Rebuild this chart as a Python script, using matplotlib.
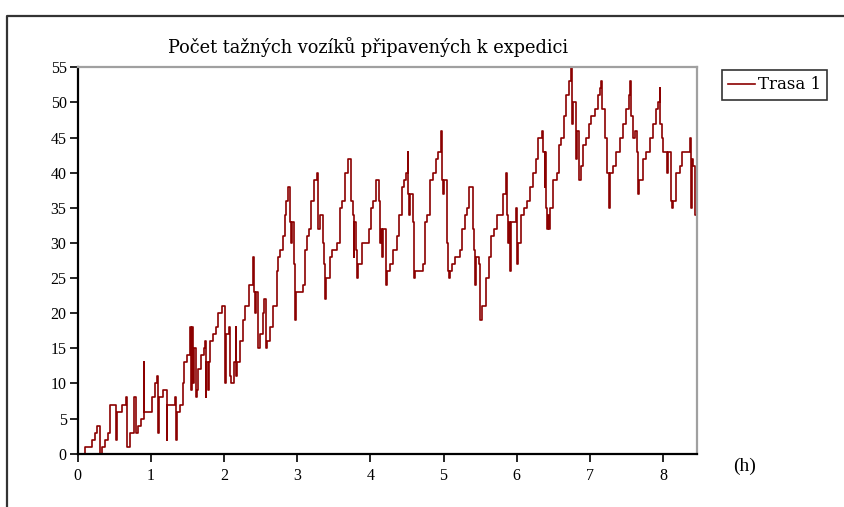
import matplotlib
matplotlib.use("Agg")
import matplotlib.pyplot as plt
from matplotlib.lines import Line2D

# change-point times (hours) and number of carts from that time on
times = [0.00, 0.10, 0.19, 0.24, 0.27, 0.305, 0.33, 0.37, 0.42, 0.445, 0.52, 0.535,
         0.61, 0.655, 0.67, 0.71, 0.77, 0.79, 0.83, 0.865, 0.90, 0.91, 1.01, 1.055,
         1.085, 1.10, 1.115, 1.16, 1.215, 1.225, 1.33, 1.35, 1.36, 1.40, 1.435, 1.45,
         1.49, 1.54, 1.55, 1.56, 1.575, 1.59, 1.615, 1.635, 1.65, 1.69, 1.72, 1.74,
         1.75, 1.76, 1.785, 1.80, 1.81, 1.85, 1.89, 1.92, 1.97, 2.01, 2.02, 2.03,
         2.07, 2.075, 2.09, 2.13, 2.16, 2.17, 2.18, 2.22, 2.26, 2.29, 2.34, 2.395,
         2.405, 2.43, 2.44, 2.47, 2.49, 2.53, 2.55, 2.57, 2.59, 2.63, 2.67, 2.72,
         2.74, 2.77, 2.80, 2.83, 2.85, 2.875, 2.895, 2.91, 2.93, 2.95, 2.97, 2.985,
         3.08, 3.11, 3.14, 3.165, 3.195, 3.23, 3.265, 3.29, 3.31, 3.355, 3.365, 3.38,
         3.40, 3.45, 3.47, 3.54, 3.58, 3.61, 3.65, 3.70, 3.73, 3.757, 3.77, 3.78,
         3.80, 3.82, 3.835, 3.879, 3.979, 4.007, 4.038, 4.075, 4.12, 4.13, 4.139,
         4.16, 4.175, 4.212, 4.23, 4.267, 4.303, 4.358, 4.394, 4.426, 4.458, 4.485,
         4.51, 4.517, 4.53, 4.545, 4.586, 4.598, 4.608, 4.713, 4.745, 4.776, 4.813,
         4.858, 4.895, 4.927, 4.959, 4.975, 4.986, 5.00, 5.041, 5.05, 5.063, 5.075,
         5.087, 5.109, 5.155, 5.223, 5.259, 5.291, 5.323, 5.35, 5.396, 5.41, 5.428,
         5.44, 5.48, 5.496, 5.519, 5.587, 5.619, 5.655, 5.687, 5.733, 5.814, 5.855,
         5.865, 5.88, 5.897, 5.91, 5.92, 5.997, 6.005, 6.02, 6.056, 6.097, 6.134,
         6.179, 6.225, 6.261, 6.293, 6.339, 6.361, 6.38, 6.39, 6.407, 6.418, 6.43,
         6.44, 6.452, 6.498, 6.544, 6.58, 6.611, 6.643, 6.68, 6.716, 6.745, 6.752,
         6.76, 6.771, 6.807, 6.815, 6.826, 6.853, 6.885, 6.908, 6.953, 6.989, 7.021,
         7.067, 7.113, 7.135, 7.158, 7.172, 7.204, 7.235, 7.26, 7.272, 7.318, 7.363,
         7.409, 7.454, 7.50, 7.536, 7.552, 7.558, 7.568, 7.59, 7.614, 7.645, 7.66,
         7.673, 7.727, 7.773, 7.818, 7.864, 7.90, 7.932, 7.952, 7.96, 7.98, 8.001,
         8.05, 8.069, 8.115, 8.125, 8.137, 8.183, 8.228, 8.265, 8.365, 8.385, 8.39,
         8.41, 8.433, 8.46]
carts = [0, 1, 2, 3, 4, 0, 1, 2, 3, 7, 2, 6,
         7, 8, 1, 3, 8, 3, 4, 5, 13, 6, 8, 10,
         11, 3, 8, 9, 2, 7, 8, 2, 6, 7, 10, 13,
         14, 18, 9, 18, 10, 15, 8, 9, 12, 14, 15, 16,
         8, 13, 9, 13, 16, 17, 18, 20, 21, 13, 10, 17,
         18, 11, 10, 13, 18, 11, 13, 16, 19, 21, 24, 28,
         23, 20, 23, 15, 17, 20, 22, 15, 16, 18, 21, 26,
         28, 29, 31, 34, 36, 38, 33, 30, 33, 27, 19, 23,
         24, 29, 31, 32, 36, 39, 40, 32, 34, 30, 27, 22,
         25, 28, 29, 30, 35, 36, 40, 42, 36, 34, 28, 33,
         29, 25, 27, 30, 32, 35, 36, 39, 36, 30, 32,
         28, 32, 24, 26, 27, 29, 31, 34, 38, 39, 40,
         43, 37, 34, 37, 33, 25, 26, 27, 33, 34, 39,
         40, 42, 43, 46, 39, 37, 39, 33, 30, 26, 25,
         26, 27, 28, 29, 32, 34, 35, 38, 32, 29, 24,
         28, 27, 19, 21, 25, 28, 31, 32, 34, 37, 40,
         34, 30, 33, 26, 33, 35, 27, 30, 34, 35, 36,
         38, 40, 42, 45, 46, 43, 38, 43, 35, 32, 34,
         32, 35, 39, 40, 44, 45, 48, 51, 53, 55, 50,
         47, 50, 46, 42, 46, 39, 41, 44, 45, 47, 48,
         49, 51, 52, 53, 49, 45, 40, 35, 40, 41, 43,
         45, 47, 49, 51, 53, 51, 48, 45, 46, 43, 37,
         39, 42, 43, 45, 47, 49, 50, 52, 47, 45, 43,
         40, 43, 36, 35, 36, 40, 41, 43, 45, 35, 42,
         41, 34, 34]

series_label = "Trasa 1"
title_text = "Počet tažných vozíků připavených k expedici"
x_ticks = [0, 1, 2, 3, 4, 5, 6, 7, 8]
y_ticks = [0, 5, 10, 15, 20, 25, 30, 35, 40, 45, 50, 55]

SERIF = ["Liberation Serif", "DejaVu Serif"]
WIDE_SERIF = ["DejaVu Serif", "Liberation Serif"]
plt.rcParams["font.family"] = SERIF

W, H = 844, 507
fig = plt.figure(figsize=(W / 100, H / 100), dpi=100)
fig.patch.set_facecolor("white")

L, R, T, B = 77.7, 696.7, 67.3, 453.7
ax = fig.add_axes([L / W, 1 - B / H, (R - L) / W, (B - T) / H])

line, = ax.plot(times, carts, drawstyle="steps-post", color="#8b0000",
                lw=1.2, label=series_label)

ax.set_xlim(0, 8.46)
ax.set_ylim(0, 55)
ax.set_xticks(x_ticks)
ax.set_yticks(y_ticks)
ax.tick_params(axis="both", direction="out", length=6, width=1.2,
               labelsize=11.5, colors="black")
ax.tick_params(axis="x", pad=4)
ax.tick_params(axis="y", pad=2)

for s in ("left", "bottom"):
    ax.spines[s].set_color("black")
    ax.spines[s].set_linewidth(1.6)
for s in ("top", "right"):
    ax.spines[s].set_color("#a0a0a0")
    ax.spines[s].set_linewidth(1.6)

fig.text(368 / W, 1 - 47 / H, title_text, ha="center", va="center",
         fontsize=12.8, family=WIDE_SERIF)
fig.text(745 / W, 1 - 466 / H, "(h)", ha="center", va="center", fontsize=14)

leg = fig.legend(handles=[line], loc="upper left",
                 bbox_to_anchor=(722 / W, 1 - 70 / H), frameon=True,
                 fancybox=False, edgecolor="black",
                 prop={"family": WIDE_SERIF, "size": 12},
                 handlelength=1.6, handletextpad=0.15, borderpad=0.38,
                 borderaxespad=0)
leg.get_frame().set_linewidth(1.2)

# outer window frame
fig.add_artist(Line2D([7 / W, 7 / W, 1.0], [0.0, 1 - 16 / H, 1 - 16 / H],
                      transform=fig.transFigure, color="#333333", lw=1.6))

fig.savefig("out.png", dpi=100)
